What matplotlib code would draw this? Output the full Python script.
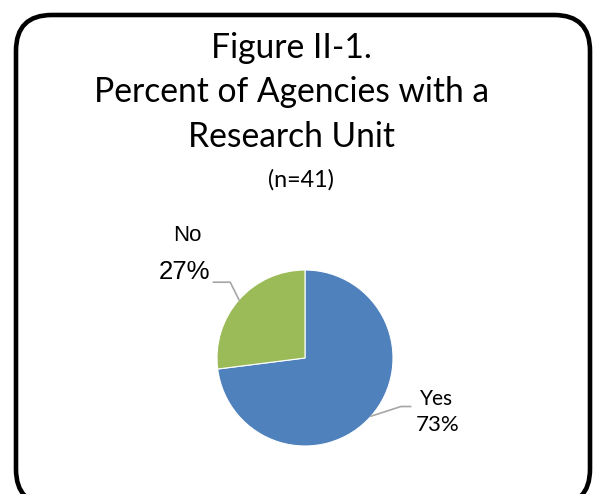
import numpy as np
import matplotlib.pyplot as plt
from matplotlib.patches import FancyBboxPatch

# Data
categories = ['Yes', 'No']
percents = [73, 27]
colors = ['#4F81BD', '#9BBB59']

title_lines = ['Figure II-1.', 'Percent of Agencies with a', 'Research Unit']
subtitle = '(n=41)'

W, H = 596, 494
fig = plt.figure(figsize=(W / 100, H / 100), dpi=100)
fig.patch.set_facecolor('white')


def fy(py):
    # pixel y from top -> figure fraction
    return 1 - py / H


# rounded border
border = FancyBboxPatch((16 / W, fy(505)), (590 - 16) / W, (505 - 15) / H,
                        boxstyle='round,pad=0,rounding_size=0.06',
                        transform=fig.transFigure, facecolor='none',
                        edgecolor='black', linewidth=3.3, clip_on=False,
                        mutation_aspect=W / H)
fig.patches.append(border)

title_font = 'Lato'
baselines = [58, 102, 147]
for line, b in zip(title_lines, baselines):
    fig.text(291 / W, fy(b), line, ha='center', va='baseline',
             fontsize=24.2, family=title_font, color='black')
fig.text(301 / W, fy(187), subtitle, ha='center', va='baseline',
         fontsize=16.8, family=title_font, color='black')

# pie axes: center (305, 358), radius 88 px
cx, cy, r = 305, 358, 88
ax = fig.add_axes([(cx - r) / W, fy(cy + r), 2 * r / W, 2 * r / H])
wedges, _ = ax.pie(percents, colors=colors, startangle=90, counterclock=False,
                   radius=1, wedgeprops=dict(linewidth=0.8, edgecolor='white'))
ax.set_xlim(-1, 1)
ax.set_ylim(-1, 1)
ax.set_aspect('equal')
ax.axis('off')

for w, cat, pct in zip(wedges, categories, percents):
    mid = np.deg2rad((w.theta1 + w.theta2) / 2)
    x0, y0 = np.cos(mid), np.sin(mid)
    if x0 < 0:
        # leader going up-left then horizontal
        xb, yb = x0 - 0.10, y0 + 0.20
        xe = xb - 0.19
        ax.plot([x0, xb, xe], [y0, yb, yb], color='#A6A6A6', lw=1.2, clip_on=False)
        ax.text(xe - 0.04, yb + 0.12, f'{pct}%', ha='right', va='center',
                fontsize=18.5, family='Liberation Sans', clip_on=False)
        ax.text(xe - 0.30, yb + 0.53, cat, ha='center', va='center',
                fontsize=16, family='Liberation Sans', clip_on=False)
    else:
        xb, yb = x0 + 0.34, y0 + 0.11
        xe = xb + 0.11
        ax.plot([x0, xb, xe], [y0, yb, yb], color='#A6A6A6', lw=1.2, clip_on=False)
        ax.text(xe + 0.30, yb + 0.09, cat, ha='center', va='center',
                fontsize=15, family=title_font, clip_on=False)
        ax.text(xe + 0.31, yb - 0.21, f'{pct}%', ha='center', va='center',
                fontsize=16, family=title_font, clip_on=False)

fig.savefig('out.png', dpi=100)
